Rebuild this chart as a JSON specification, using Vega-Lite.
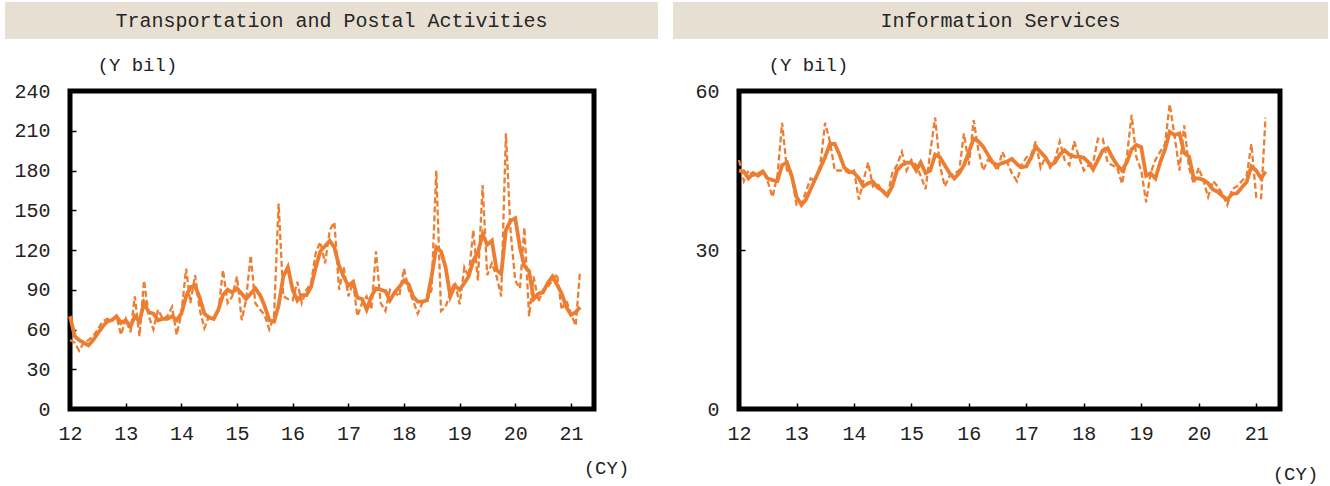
{
  "$schema": "https://vega.github.io/schema/vega-lite/v6.json",
  "padding": {"left": 5, "top": 2, "right": 0, "bottom": 0},
  "background": "white",
  "spacing": 13,
  "datasets": {
    "transport": [
      {"d": "2012-01-01", "raw": 52, "ma": 70}, {"d": "2012-02-01", "raw": 50, "ma": 55}, {"d": "2012-03-01", "raw": 44, "ma": 52},
      {"d": "2012-04-01", "raw": 50, "ma": 50}, {"d": "2012-05-01", "raw": 52, "ma": 48}, {"d": "2012-06-01", "raw": 55, "ma": 52},
      {"d": "2012-07-01", "raw": 60, "ma": 57}, {"d": "2012-08-01", "raw": 66, "ma": 62}, {"d": "2012-09-01", "raw": 68, "ma": 66},
      {"d": "2012-10-01", "raw": 67, "ma": 67}, {"d": "2012-11-01", "raw": 70, "ma": 70}, {"d": "2012-12-01", "raw": 56, "ma": 65},
      {"d": "2013-01-01", "raw": 68, "ma": 67}, {"d": "2013-02-01", "raw": 58, "ma": 62}, {"d": "2013-03-01", "raw": 85, "ma": 70},
      {"d": "2013-04-01", "raw": 55, "ma": 66}, {"d": "2013-05-01", "raw": 97, "ma": 80}, {"d": "2013-06-01", "raw": 70, "ma": 73},
      {"d": "2013-07-01", "raw": 60, "ma": 72}, {"d": "2013-08-01", "raw": 75, "ma": 67}, {"d": "2013-09-01", "raw": 68, "ma": 68},
      {"d": "2013-10-01", "raw": 70, "ma": 68}, {"d": "2013-11-01", "raw": 77, "ma": 70}, {"d": "2013-12-01", "raw": 56, "ma": 67},
      {"d": "2014-01-01", "raw": 72, "ma": 72}, {"d": "2014-02-01", "raw": 106, "ma": 85}, {"d": "2014-03-01", "raw": 80, "ma": 92},
      {"d": "2014-04-01", "raw": 101, "ma": 93}, {"d": "2014-05-01", "raw": 75, "ma": 84}, {"d": "2014-06-01", "raw": 61, "ma": 72},
      {"d": "2014-07-01", "raw": 70, "ma": 69}, {"d": "2014-08-01", "raw": 68, "ma": 68}, {"d": "2014-09-01", "raw": 74, "ma": 75},
      {"d": "2014-10-01", "raw": 105, "ma": 86}, {"d": "2014-11-01", "raw": 80, "ma": 90}, {"d": "2014-12-01", "raw": 85, "ma": 88},
      {"d": "2015-01-01", "raw": 100, "ma": 91}, {"d": "2015-02-01", "raw": 67, "ma": 87}, {"d": "2015-03-01", "raw": 82, "ma": 83},
      {"d": "2015-04-01", "raw": 116, "ma": 87}, {"d": "2015-05-01", "raw": 80, "ma": 91}, {"d": "2015-06-01", "raw": 75, "ma": 86},
      {"d": "2015-07-01", "raw": 71, "ma": 78}, {"d": "2015-08-01", "raw": 60, "ma": 67}, {"d": "2015-09-01", "raw": 70, "ma": 66},
      {"d": "2015-10-01", "raw": 155, "ma": 78}, {"d": "2015-11-01", "raw": 85, "ma": 100}, {"d": "2015-12-01", "raw": 83, "ma": 107},
      {"d": "2016-01-01", "raw": 82, "ma": 90}, {"d": "2016-02-01", "raw": 96, "ma": 82}, {"d": "2016-03-01", "raw": 80, "ma": 86},
      {"d": "2016-04-01", "raw": 90, "ma": 86}, {"d": "2016-05-01", "raw": 95, "ma": 92}, {"d": "2016-06-01", "raw": 118, "ma": 107},
      {"d": "2016-07-01", "raw": 126, "ma": 119}, {"d": "2016-08-01", "raw": 110, "ma": 123}, {"d": "2016-09-01", "raw": 135, "ma": 127},
      {"d": "2016-10-01", "raw": 141, "ma": 122}, {"d": "2016-11-01", "raw": 90, "ma": 108}, {"d": "2016-12-01", "raw": 107, "ma": 100},
      {"d": "2017-01-01", "raw": 85, "ma": 93}, {"d": "2017-02-01", "raw": 96, "ma": 96}, {"d": "2017-03-01", "raw": 70, "ma": 84},
      {"d": "2017-04-01", "raw": 80, "ma": 83}, {"d": "2017-05-01", "raw": 85, "ma": 75}, {"d": "2017-06-01", "raw": 75, "ma": 85},
      {"d": "2017-07-01", "raw": 119, "ma": 91}, {"d": "2017-08-01", "raw": 80, "ma": 90}, {"d": "2017-09-01", "raw": 74, "ma": 89},
      {"d": "2017-10-01", "raw": 90, "ma": 82}, {"d": "2017-11-01", "raw": 88, "ma": 88}, {"d": "2017-12-01", "raw": 85, "ma": 92},
      {"d": "2018-01-01", "raw": 106, "ma": 97}, {"d": "2018-02-01", "raw": 90, "ma": 94}, {"d": "2018-03-01", "raw": 82, "ma": 85},
      {"d": "2018-04-01", "raw": 72, "ma": 81}, {"d": "2018-05-01", "raw": 80, "ma": 81}, {"d": "2018-06-01", "raw": 82, "ma": 82},
      {"d": "2018-07-01", "raw": 90, "ma": 100}, {"d": "2018-08-01", "raw": 180, "ma": 122}, {"d": "2018-09-01", "raw": 74, "ma": 119},
      {"d": "2018-10-01", "raw": 77, "ma": 107}, {"d": "2018-11-01", "raw": 88, "ma": 85}, {"d": "2018-12-01", "raw": 96, "ma": 93},
      {"d": "2019-01-01", "raw": 79, "ma": 90}, {"d": "2019-02-01", "raw": 107, "ma": 95}, {"d": "2019-03-01", "raw": 100, "ma": 100},
      {"d": "2019-04-01", "raw": 135, "ma": 112}, {"d": "2019-05-01", "raw": 97, "ma": 118}, {"d": "2019-06-01", "raw": 169, "ma": 132},
      {"d": "2019-07-01", "raw": 101, "ma": 124}, {"d": "2019-08-01", "raw": 110, "ma": 127}, {"d": "2019-09-01", "raw": 100, "ma": 105},
      {"d": "2019-10-01", "raw": 85, "ma": 102}, {"d": "2019-11-01", "raw": 208, "ma": 135}, {"d": "2019-12-01", "raw": 135, "ma": 142},
      {"d": "2020-01-01", "raw": 97, "ma": 144}, {"d": "2020-02-01", "raw": 91, "ma": 122}, {"d": "2020-03-01", "raw": 137, "ma": 108},
      {"d": "2020-04-01", "raw": 70, "ma": 104}, {"d": "2020-05-01", "raw": 100, "ma": 83}, {"d": "2020-06-01", "raw": 81, "ma": 87},
      {"d": "2020-07-01", "raw": 90, "ma": 88}, {"d": "2020-08-01", "raw": 92, "ma": 95}, {"d": "2020-09-01", "raw": 97, "ma": 100},
      {"d": "2020-10-01", "raw": 102, "ma": 94}, {"d": "2020-11-01", "raw": 75, "ma": 87}, {"d": "2020-12-01", "raw": 82, "ma": 77},
      {"d": "2021-01-01", "raw": 72, "ma": 71}, {"d": "2021-02-01", "raw": 63, "ma": 73}, {"d": "2021-03-01", "raw": 104, "ma": 77}
    ],
    "info": [
      {"d": "2012-01-01", "raw": 47, "ma": 45}, {"d": "2012-02-01", "raw": 43, "ma": 44.8}, {"d": "2012-03-01", "raw": 45, "ma": 43.5},
      {"d": "2012-04-01", "raw": 44, "ma": 44.5}, {"d": "2012-05-01", "raw": 44.5, "ma": 44}, {"d": "2012-06-01", "raw": 45, "ma": 44.8},
      {"d": "2012-07-01", "raw": 43, "ma": 43.5}, {"d": "2012-08-01", "raw": 40, "ma": 43.2}, {"d": "2012-09-01", "raw": 44, "ma": 43},
      {"d": "2012-10-01", "raw": 54, "ma": 46}, {"d": "2012-11-01", "raw": 45, "ma": 46.5}, {"d": "2012-12-01", "raw": 44, "ma": 44},
      {"d": "2013-01-01", "raw": 38.5, "ma": 40}, {"d": "2013-02-01", "raw": 38.5, "ma": 38.5}, {"d": "2013-03-01", "raw": 41, "ma": 39.5},
      {"d": "2013-04-01", "raw": 43.5, "ma": 41.5}, {"d": "2013-05-01", "raw": 43, "ma": 43.5}, {"d": "2013-06-01", "raw": 46, "ma": 45.5},
      {"d": "2013-07-01", "raw": 54, "ma": 47.5}, {"d": "2013-08-01", "raw": 50.5, "ma": 50}, {"d": "2013-09-01", "raw": 45, "ma": 50},
      {"d": "2013-10-01", "raw": 45, "ma": 48}, {"d": "2013-11-01", "raw": 45, "ma": 45.5}, {"d": "2013-12-01", "raw": 44.5, "ma": 44.8},
      {"d": "2014-01-01", "raw": 45, "ma": 44.6}, {"d": "2014-02-01", "raw": 39.5, "ma": 43.5}, {"d": "2014-03-01", "raw": 43, "ma": 42},
      {"d": "2014-04-01", "raw": 46.5, "ma": 42.6}, {"d": "2014-05-01", "raw": 42, "ma": 42.9}, {"d": "2014-06-01", "raw": 42.5, "ma": 41.8},
      {"d": "2014-07-01", "raw": 41, "ma": 41.2}, {"d": "2014-08-01", "raw": 40, "ma": 40.3}, {"d": "2014-09-01", "raw": 44.5, "ma": 42},
      {"d": "2014-10-01", "raw": 46, "ma": 45}, {"d": "2014-11-01", "raw": 48.5, "ma": 46}, {"d": "2014-12-01", "raw": 45, "ma": 46.5},
      {"d": "2015-01-01", "raw": 47, "ma": 46.5}, {"d": "2015-02-01", "raw": 46, "ma": 45}, {"d": "2015-03-01", "raw": 44, "ma": 46.5},
      {"d": "2015-04-01", "raw": 41.5, "ma": 44.5}, {"d": "2015-05-01", "raw": 48.5, "ma": 45}, {"d": "2015-06-01", "raw": 55, "ma": 48},
      {"d": "2015-07-01", "raw": 46, "ma": 47.5}, {"d": "2015-08-01", "raw": 42, "ma": 46}, {"d": "2015-09-01", "raw": 44, "ma": 44.5},
      {"d": "2015-10-01", "raw": 44.5, "ma": 43.5}, {"d": "2015-11-01", "raw": 45, "ma": 44.5}, {"d": "2015-12-01", "raw": 52, "ma": 46},
      {"d": "2016-01-01", "raw": 46, "ma": 48.5}, {"d": "2016-02-01", "raw": 54.5, "ma": 51}, {"d": "2016-03-01", "raw": 49, "ma": 50.5},
      {"d": "2016-04-01", "raw": 45, "ma": 49.5}, {"d": "2016-05-01", "raw": 47, "ma": 48}, {"d": "2016-06-01", "raw": 46.5, "ma": 46.5},
      {"d": "2016-07-01", "raw": 45, "ma": 46}, {"d": "2016-08-01", "raw": 48.5, "ma": 46.4}, {"d": "2016-09-01", "raw": 46.5, "ma": 46.7},
      {"d": "2016-10-01", "raw": 44.5, "ma": 47.2}, {"d": "2016-11-01", "raw": 43, "ma": 46.2}, {"d": "2016-12-01", "raw": 46, "ma": 45.6},
      {"d": "2017-01-01", "raw": 47.5, "ma": 45.8}, {"d": "2017-02-01", "raw": 48, "ma": 47.5}, {"d": "2017-03-01", "raw": 50.5, "ma": 49.5},
      {"d": "2017-04-01", "raw": 45.5, "ma": 48.5}, {"d": "2017-05-01", "raw": 47.5, "ma": 47.5}, {"d": "2017-06-01", "raw": 45.5, "ma": 46},
      {"d": "2017-07-01", "raw": 47, "ma": 46.5}, {"d": "2017-08-01", "raw": 50.5, "ma": 48}, {"d": "2017-09-01", "raw": 47, "ma": 48.8},
      {"d": "2017-10-01", "raw": 46, "ma": 48}, {"d": "2017-11-01", "raw": 50.5, "ma": 47.6}, {"d": "2017-12-01", "raw": 47.5, "ma": 47.6},
      {"d": "2018-01-01", "raw": 45, "ma": 47.4}, {"d": "2018-02-01", "raw": 46, "ma": 46.5}, {"d": "2018-03-01", "raw": 46.5, "ma": 45.2},
      {"d": "2018-04-01", "raw": 51, "ma": 47}, {"d": "2018-05-01", "raw": 51, "ma": 48.8}, {"d": "2018-06-01", "raw": 46.5, "ma": 49.2},
      {"d": "2018-07-01", "raw": 46, "ma": 47.5}, {"d": "2018-08-01", "raw": 45.5, "ma": 46}, {"d": "2018-09-01", "raw": 42.5, "ma": 45},
      {"d": "2018-10-01", "raw": 47.5, "ma": 46.5}, {"d": "2018-11-01", "raw": 55.5, "ma": 49}, {"d": "2018-12-01", "raw": 47.5, "ma": 49.8},
      {"d": "2019-01-01", "raw": 45, "ma": 49.4}, {"d": "2019-02-01", "raw": 39, "ma": 44}, {"d": "2019-03-01", "raw": 44.5, "ma": 44.5},
      {"d": "2019-04-01", "raw": 47, "ma": 43.5}, {"d": "2019-05-01", "raw": 48.5, "ma": 46.5}, {"d": "2019-06-01", "raw": 50, "ma": 49},
      {"d": "2019-07-01", "raw": 57.5, "ma": 52.3}, {"d": "2019-08-01", "raw": 51.5, "ma": 51.7}, {"d": "2019-09-01", "raw": 45, "ma": 52},
      {"d": "2019-10-01", "raw": 53.5, "ma": 48.3}, {"d": "2019-11-01", "raw": 45.5, "ma": 47.6}, {"d": "2019-12-01", "raw": 42.5, "ma": 43.5},
      {"d": "2020-01-01", "raw": 45.5, "ma": 43.5}, {"d": "2020-02-01", "raw": 43, "ma": 43.2}, {"d": "2020-03-01", "raw": 40, "ma": 42.6},
      {"d": "2020-04-01", "raw": 43, "ma": 41.4}, {"d": "2020-05-01", "raw": 42, "ma": 41}, {"d": "2020-06-01", "raw": 40.5, "ma": 40.2},
      {"d": "2020-07-01", "raw": 38.5, "ma": 39.5}, {"d": "2020-08-01", "raw": 41.5, "ma": 40.6}, {"d": "2020-09-01", "raw": 42, "ma": 40.7},
      {"d": "2020-10-01", "raw": 43, "ma": 41.8}, {"d": "2020-11-01", "raw": 44, "ma": 42.8}, {"d": "2020-12-01", "raw": 50, "ma": 45.8},
      {"d": "2021-01-01", "raw": 40, "ma": 45}, {"d": "2021-02-01", "raw": 39.8, "ma": 43.5}, {"d": "2021-03-01", "raw": 55, "ma": 44.8}
    ]
  },
  "vconcat": [
    {
      "spacing": 15,
      "hconcat": [
        {
          "width": 653, "height": 37,
          "data": {"values": [{"t": "Transportation and Postal Activities"}]},
          "mark": {"type": "text", "fontSize": 20, "color": "#262626"},
          "encoding": {"text": {"field": "t"}},
          "view": {"fill": "#e8dfd3", "stroke": null}
        },
        {
          "width": 655, "height": 37,
          "data": {"values": [{"t": "Information Services"}]},
          "mark": {"type": "text", "fontSize": 20, "color": "#262626"},
          "encoding": {"text": {"field": "t"}},
          "view": {"fill": "#e8dfd3", "stroke": null}
        }
      ]
    },
    {
      "spacing": 0,
      "hconcat": [
        {
          "width": 6, "height": 10,
          "data": {"values": []},
          "mark": "point",
          "view": {"stroke": null}
        },
        {
          "spacing": 60,
          "hconcat": [
            {
              "width": 524, "height": 318,
              "data": {"name": "transport"},
              "encoding": {
                "x": {
                  "field": "d", "type": "temporal",
                  "scale": {"type": "utc", "domain": ["2012-01-01", "2021-06-01"]},
                  "axis": {"format": "%y", "tickCount": {"interval": "year", "step": 1}, "labelFlush": false, "labelPadding": 20,
                           "title": "(CY)", "titleX": 536, "titleY": 58, "titleAlign": "center", "titleBaseline": "middle"}
                }
              },
              "layer": [
                {
                  "mark": {"type": "line", "color": "#ed7d31", "strokeWidth": 2.3, "strokeDash": [6, 3]},
                  "encoding": {
                    "y": {"field": "raw", "type": "quantitative", "scale": {"domain": [0, 240]},
                          "axis": {"values": [0, 30, 60, 90, 120, 150, 180, 210, 240], "labelOverlap": false, "labelPadding": 26,
                                   "title": "(Y bil)", "titleAngle": 0, "titleAlign": "left", "titleBaseline": "middle", "titleX": 27, "titleY": -27}}
                  }
                },
                {
                  "mark": {"type": "line", "color": "#ed7d31", "strokeWidth": 3.8},
                  "encoding": {
                    "y": {"field": "ma", "type": "quantitative", "scale": {"domain": [0, 240]},
                          "axis": {"values": [0, 30, 60, 90, 120, 150, 180, 210, 240], "labelOverlap": false, "labelPadding": 26,
                                   "title": "(Y bil)", "titleAngle": 0, "titleAlign": "left", "titleBaseline": "middle", "titleX": 27, "titleY": -27}}
                  }
                }
              ]
            },
            {
              "width": 541, "height": 318,
              "data": {"name": "info"},
              "encoding": {
                "x": {
                  "field": "d", "type": "temporal",
                  "scale": {"type": "utc", "domain": ["2012-01-01", "2021-06-01"]},
                  "axis": {"format": "%y", "tickCount": {"interval": "year", "step": 1}, "labelFlush": false, "labelPadding": 20,
                           "title": "(CY)", "titleX": 556, "titleY": 64, "titleAlign": "center", "titleBaseline": "middle"}
                }
              },
              "layer": [
                {
                  "mark": {"type": "line", "color": "#ed7d31", "strokeWidth": 2.3, "strokeDash": [6, 3]},
                  "encoding": {
                    "y": {"field": "raw", "type": "quantitative", "scale": {"domain": [0, 60]},
                          "axis": {"values": [0, 30, 60], "labelOverlap": false, "labelPadding": 26,
                                   "title": "(Y bil)", "titleAngle": 0, "titleAlign": "left", "titleBaseline": "middle", "titleX": 29, "titleY": -27}}
                  }
                },
                {
                  "mark": {"type": "line", "color": "#ed7d31", "strokeWidth": 3.8},
                  "encoding": {
                    "y": {"field": "ma", "type": "quantitative", "scale": {"domain": [0, 60]},
                          "axis": {"values": [0, 30, 60], "labelOverlap": false, "labelPadding": 26,
                                   "title": "(Y bil)", "titleAngle": 0, "titleAlign": "left", "titleBaseline": "middle", "titleX": 29, "titleY": -27}}
                  }
                }
              ]
            }
          ]
        }
      ]
    }
  ],
  "config": {
    "font": "Liberation Mono",
    "view": {"stroke": "black", "strokeWidth": 5},
    "axis": {
      "grid": false,
      "domain": false,
      "tickColor": "black",
      "tickWidth": 1.5,
      "tickSize": -6,
      "labelFont": "Liberation Mono",
      "labelFontSize": 20,
      "labelColor": "#222222",
      "titleFont": "Liberation Mono",
      "titleFontSize": 19,
      "titleFontWeight": "normal",
      "titleColor": "#222222"
    }
  }
}
